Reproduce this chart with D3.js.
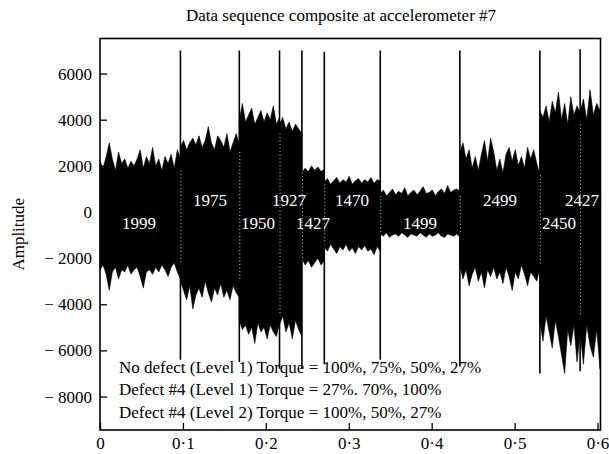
<!DOCTYPE html>
<html>
<head>
<meta charset="utf-8">
<script src="https://cdn.jsdelivr.net/npm/d3@7"></script>
<style>
  body { margin: 0; background: #fff; }
  svg { display: block; font-family: "Liberation Serif", "Times New Roman", serif; }
</style>
</head>
<body>
<div id="chart"></div>
<script>
// segment boundaries along the time axis (s)
const segmentEdges = [0, 0.097, 0.168, 0.2165, 0.2435, 0.2705, 0.338, 0.434, 0.5305, 0.579, 0.603];
const segmentLabels = ['1999', '1975', '1950', '1927', '1427', '1470', '1499', '2499', '2450', '2427'];
const labelX = [0.047, 0.1327, 0.1905, 0.2279, 0.2569, 0.3039, 0.3859, 0.4824, 0.5536, 0.5813];
const labelY = [-730, 270, -730, 270, -730, 270, -730, 270, -730, 270];

// peak envelope of the signal, one list per segment
const upperPeaks = [
  [2200, 1900, 2400, 3000, 2300, 1800, 2600, 2100, 2300, 1900, 2200, 2000, 2300, 2700, 1900, 2400, 2100, 2800, 2000, 2300, 1800, 2400, 2100, 2500, 1900, 2700, 2300],
  [2800, 3100, 2700, 3000, 3200, 2900, 3300, 2800, 3100, 3700, 3000, 2700, 3300, 3100, 2800, 3400, 2600, 3000, 3400, 2900],
  [4000, 4700, 3900, 4200, 4500, 3800, 4100, 4400, 3900, 4300, 4000, 4600, 3800, 4100],
  [3800, 4100, 3600, 3900, 3500, 3800, 3600, 3400],
  [1700, 1900, 1750, 2000, 1800, 1950, 1750, 1850],
  [1300, 1450, 1200, 1350, 1500, 1250, 1400, 1300, 1550, 1200, 1350, 1450, 1250, 1400, 1300, 1500, 1250, 1400, 1350],
  [800, 950, 700, 850, 1000, 750, 900, 800, 1050, 700, 850, 950, 750, 900, 1100, 800, 850, 950, 700, 900, 1000, 800, 1150, 850, 950, 1000, 900],
  [2600, 3000, 2300, 2700, 1900, 2400, 1800, 2500, 3100, 2200, 3200, 2600, 1800, 2300, 1700, 2500, 2800, 2200, 2700, 2000, 2400, 1900, 2800, 2300, 2700, 2100, 1600],
  [4400, 4100, 4600, 3900, 4800, 4300, 5200, 4000, 4700, 3800, 5000, 4200, 4600, 4300],
  [4300, 4900, 4000, 5300, 4200, 4700, 4400]
];
const lowerPeaks = [
  [-2500, -2300, -2700, -3400, -2600, -2400, -2900, -2500, -2600, -2300, -2700, -2500, -2400, -2800, -3300, -2600, -2500, -2700, -2400, -2600, -2300, -2500, -2800, -2400, -2200, -2600, -2900],
  [-3000, -3400, -3800, -3200, -4200, -3600, -3300, -3700, -3000, -3500, -3900, -3300, -3600, -3100, -3700, -3400, -3800, -3200, -3500, -3700],
  [-4700, -5100, -4900, -5300, -5000, -5700, -4800, -5200, -5000, -5500, -4900, -5200, -5400, -4800],
  [-4900, -4500, -5200, -4800, -5500, -4700, -5100, -5400],
  [-2000, -2300, -2100, -2400, -2200, -2000, -2300, -2100],
  [-1500, -1700, -1400, -1600, -1800, -1500, -1650, -1400, -1700, -1550, -1800, -1500, -1650, -1450, -1700, -1600, -1850, -1500, -1700],
  [-950, -1050, -900, -1100, -1000, -950, -1050, -900, -1000, -1100, -950, -1000, -1050, -900, -1000, -1100, -950, -1050, -1000, -900, -1050, -1100, -950, -1000, -1050, -950, -1100],
  [-2300, -2900, -2500, -3200, -2700, -2400, -3000, -2600, -3300, -2500, -2800, -2400, -2900, -2600, -3100, -2400, -2800, -3400, -2600, -2900, -2300, -2700, -3200, -2600, -2800, -3000, -2400],
  [-4800, -5600, -4500, -5200, -5900, -4700, -5400, -6200, -7000, -5100, -5800, -4900, -6500, -5300],
  [-5200, -6600, -4900, -5800, -6300, -5100, -6800]
];
// transient spikes at each joint between segments
const spikeHigh = [7000, 7000, 7000, 7000, 6950, 7000, 7000, 7000, 7050];
const spikeLow = [-6400, -6500, -6800, -6800, -6600, -6400, -6700, -7000, -6900];

const xTicks = [0, 0.1, 0.2, 0.3, 0.4, 0.5, 0.6];
const yTicks = [-8000, -6000, -4000, -2000, 0, 2000, 4000, 6000];
const legendLines = [
  'No defect (Level 1) Torque = 100%, 75%, 50%, 27%',
  'Defect #4 (Level 1) Torque = 27%. 70%, 100%',
  'Defect #4 (Level 2) Torque = 100%, 50%, 27%'
];

const width = 609;
const height = 454;
const margin = { top: 38.5, right: 8.5, bottom: 24, left: 100 };

const svg = d3.select('#chart')
  .append('svg')
  .attr('width', width)
  .attr('height', height);

const x = d3.scaleLinear()
  .domain([0, 0.6036])
  .range([margin.left, width - margin.right]);
const y = d3.scaleLinear()
  .domain([-9450, 7520])
  .range([height - margin.bottom, margin.top]);

// signal band, one area per segment
const area = d3.area()
  .x((d) => x(d.t))
  .y0((d) => y(d.lo))
  .y1((d) => y(d.hi));

segmentLabels.forEach((label, i) => {
  const t0 = segmentEdges[i];
  const t1 = segmentEdges[i + 1];
  const hi = upperPeaks[i];
  const lo = lowerPeaks[i];
  const pts = hi.map((v, k) => ({
    t: t0 + ((t1 - t0) * k) / (hi.length - 1),
    hi: v,
    lo: lo[k]
  }));
  svg.append('path')
    .datum(pts)
    .attr('d', area)
    .attr('fill', '#000')
    .attr('stroke', '#000')
    .attr('stroke-width', 0.6);
});

// joint spikes
const joints = segmentEdges.slice(1, -1);
svg.selectAll('line.spike')
  .data(joints)
  .enter()
  .append('line')
  .attr('class', 'spike')
  .attr('x1', (d) => x(d))
  .attr('x2', (d) => x(d))
  .attr('y1', (d, i) => y(spikeHigh[i]))
  .attr('y2', (d, i) => y(spikeLow[i]))
  .attr('stroke', '#000')
  .attr('stroke-width', 1.6);

// faint white dotted gaps inside the band at each joint
svg.selectAll('line.gap')
  .data(joints)
  .enter()
  .append('line')
  .attr('class', 'gap')
  .attr('x1', (d) => x(d) + 0.5)
  .attr('x2', (d) => x(d) + 0.5)
  .attr('y1', (d, i) => y(Math.min(d3.min(upperPeaks[i]), d3.min(upperPeaks[i + 1]))))
  .attr('y2', (d, i) => y(Math.max(d3.max(lowerPeaks[i]), d3.max(lowerPeaks[i + 1]))))
  .attr('stroke', '#fff')
  .attr('stroke-width', 0.8)
  .attr('stroke-dasharray', '1,2.5');

// segment speed labels
svg.selectAll('text.seg')
  .data(segmentLabels)
  .enter()
  .append('text')
  .attr('class', 'seg')
  .attr('x', (d, i) => x(labelX[i]))
  .attr('y', (d, i) => y(labelY[i]))
  .attr('text-anchor', 'middle')
  .attr('fill', '#fff')
  .attr('font-size', 17)
  .text((d) => d);

// axes
const yAxis = d3.axisLeft(y)
  .tickValues(yTicks)
  .tickSize(-7)
  .tickPadding(8)
  .tickFormat((d) => (d < 0 ? '\u2212 ' + Math.abs(d) : String(d)));
const xAxis = d3.axisBottom(x)
  .tickValues(xTicks)
  .tickSize(-7)
  .tickPadding(7)
  .tickFormat((d) => (d === 0 ? '0' : d3.format('.1f')(d).replace('.', '\u00b7')));

const gy = svg.append('g')
  .attr('transform', `translate(${margin.left},0)`)
  .call(yAxis);
const gx = svg.append('g')
  .attr('transform', `translate(0,${height - margin.bottom})`)
  .call(xAxis);

[gx, gy].forEach((g) => {
  g.select('.domain').remove();
  g.selectAll('.tick line').attr('stroke', '#000').attr('stroke-width', 1.3);
  g.selectAll('.tick text')
    .attr('fill', '#000')
    .style('font-family', '"Liberation Serif", "Times New Roman", serif')
    .style('font-size', '17px');
});

// frame
svg.append('rect')
  .attr('x', margin.left)
  .attr('y', margin.top)
  .attr('width', width - margin.left - margin.right)
  .attr('height', height - margin.top - margin.bottom)
  .attr('fill', 'none')
  .attr('stroke', '#000')
  .attr('stroke-width', 1.6);

// title
svg.append('text')
  .attr('x', 341)
  .attr('y', 20.5)
  .attr('text-anchor', 'middle')
  .attr('font-size', 17)
  .text('Data sequence composite at accelerometer #7');

// y label
svg.append('text')
  .attr('transform', `translate(24,${(margin.top + height - margin.bottom) / 2}) rotate(-90)`)
  .attr('text-anchor', 'middle')
  .attr('font-size', 17)
  .text('Amplitude');

// legend text
svg.selectAll('text.legend')
  .data(legendLines)
  .enter()
  .append('text')
  .attr('class', 'legend')
  .attr('x', 119)
  .attr('y', (d, i) => 372.5 + i * 22.5)
  .attr('font-size', 17)
  .text((d) => d);
</script>
</body>
</html>
